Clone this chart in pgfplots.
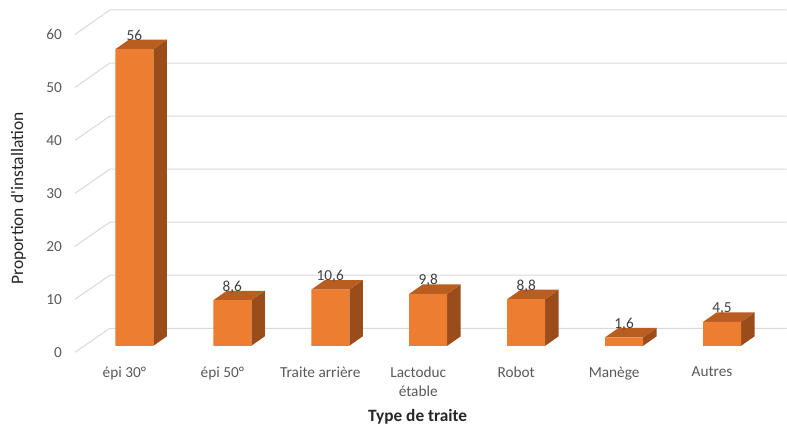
\documentclass[border=0pt]{standalone}
\usepackage{pgfplots}
\pgfplotsset{compat=1.18}
\usepackage{pgfplotstable}
\usepackage{fontspec}
\setmainfont{Carlito}[Ligatures=TeXOff]
\definecolor{barfront}{HTML}{ED7D31}
\definecolor{barside}{HTML}{9A4C1B}
\definecolor{bartop}{HTML}{B95D20}
\definecolor{gridc}{HTML}{D9D9D9}
\definecolor{ticktext}{HTML}{595959}
\definecolor{valtext}{HTML}{404040}
\definecolor{titletext}{HTML}{262626}

\pgfplotstableread{
x v
0 56
1 8.6
2 10.6
3 9.8
4 8.8
5 1.6
6 4.5
}\data

\begin{document}
\begin{tikzpicture}
\begin{axis}[
  x=98pt, y=5.3pt,
  xmin=-1.372, xmax=6.658,
  ymin=-15.85, ymax=65.28,
  clip=false,
  axis line style={draw=none},
  tick style={draw=none},
  major tick length=0pt,
  ytick={0,10,20,30,40,50,60},
  yticklabel style={font=\fontsize{15.3}{18}\selectfont, color=ticktext, anchor=east, inner sep=0pt, xshift=62pt, yshift=-6.8pt},
  xtick={0,1,2,3,4,5,6},
  xticklabels={épi 30°, épi 50°, Traite arrière, {Lactoduc\\étable}, Robot, Manège, Autres},
  xticklabel style={font=\fontsize{15.3}{18.5}\selectfont, color=ticktext, align=center, anchor=north, inner sep=0pt, xshift=-10pt, yshift=63pt},
  /pgf/number format/assume math mode=true,
  /pgf/number format/use comma,
  xlabel={Type de traite},
  xlabel style={at={(axis description cs:0.531,0.0186)}, anchor=base, font=\fontsize{17.3}{20}\selectfont\bfseries, color=titletext, inner sep=0pt},
  ylabel={Proportion d'installation},
  ylabel style={at={(axis description cs:0.0295,0.538)}, anchor=base, rotate=0, font=\fontsize{17.5}{20}\selectfont, color=titletext, inner sep=0pt},
]
% back wall gridlines with floor diagonals
\addplot[gridc, line width=1pt, mark=none] coordinates {(-0.607,-1.23) (-0.25,3.3) (6.658,3.3)};
\addplot[gridc, line width=1pt, mark=none] coordinates {(-0.607,8.77) (-0.25,13.32) (6.658,13.32)};
\addplot[gridc, line width=1pt, mark=none] coordinates {(-0.607,18.77) (-0.25,23.34) (6.658,23.34)};
\addplot[gridc, line width=1pt, mark=none] coordinates {(-0.607,28.77) (-0.25,33.35) (6.658,33.35)};
\addplot[gridc, line width=1pt, mark=none] coordinates {(-0.607,38.77) (-0.25,43.37) (6.658,43.37)};
\addplot[gridc, line width=1pt, mark=none] coordinates {(-0.607,48.77) (-0.25,53.38) (6.658,53.38)};
\addplot[gridc, line width=1pt, mark=none] coordinates {(-0.607,58.77) (-0.25,63.4) (6.658,63.4)};
% side and top faces of the 3D bars
\foreach \r in {0,...,6} {
  \pgfplotstablegetelem{\r}{x}\of\data \let\xx\pgfplotsretval
  \pgfplotstablegetelem{\r}{v}\of\data \let\vv\pgfplotsretval
  \pgfmathsetmacro\xl{\xx-0.194}
  \pgfmathsetmacro\xr{\xx+0.194}
  \pgfmathsetmacro\xrb{\xx+0.332}
  \pgfmathsetmacro\xlb{\xx-0.056}
  \pgfmathsetmacro\vb{\vv+1.79}
  \edef\tmp{
    \noexpand\addplot[fill=barside, draw=none, mark=none] coordinates {(\xr,0) (\xrb,1.79) (\xrb,\vb) (\xr,\vv)} --cycle;
    \noexpand\addplot[fill=bartop, draw=none, mark=none] coordinates {(\xl,\vv) (\xr,\vv) (\xrb,\vb) (\xlb,\vb)} --cycle;
  }
  \tmp
}
% front faces with value labels
\addplot[ybar, bar width=38pt, bar shift=0pt, fill=barfront, draw=none,
  nodes near coords,
  nodes near coords style={font=\fontsize{15.3}{18}\selectfont, color=valtext, anchor=base, yshift=9pt, inner sep=0pt}]
  table[x=x, y=v] {\data};
\end{axis}
\end{tikzpicture}
\end{document}
